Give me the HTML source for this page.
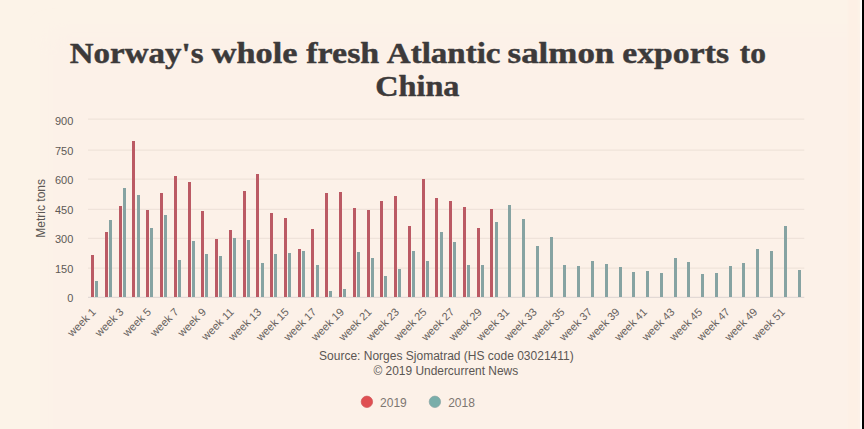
<!DOCTYPE html>
<html><head><meta charset="utf-8"><title>Norway salmon exports to China</title>
<style>html,body{margin:0;padding:0;background:#fcf3e8;}body{width:864px;height:429px;overflow:hidden;position:relative;}svg{position:absolute;left:0;top:0;display:block;}text{font-family:"Liberation Sans",sans-serif;}.t{font-family:"Liberation Serif",serif;font-weight:bold;stroke:#3c3a3a;stroke-width:0.45px;stroke-linejoin:round;}</style>
</head><body>
<svg width="864" height="429" viewBox="0 0 864 429">
<defs><filter id="bl" x="-10%" y="-10%" width="120%" height="120%"><feGaussianBlur stdDeviation="10"/></filter><filter id="bl2" x="-50%" y="-5%" width="200%" height="110%"><feGaussianBlur stdDeviation="1.5 0"/></filter></defs>
<rect x="0" y="0" width="864" height="429" fill="#fcf3e8"/>
<rect x="48" y="32" width="900" height="500" fill="#fcf1e8" filter="url(#bl)"/>
<rect x="848" y="-10" width="10" height="450" fill="#fdf0e5" filter="url(#bl2)"/>
<rect x="860.3" y="0" width="1.7" height="429" fill="#ffffff"/>
<rect x="862" y="0" width="2" height="429" fill="#000000"/>
<line x1="88.0" y1="297.40" x2="804.3" y2="297.40" stroke="#e2d9d5" stroke-width="1.2"/>
<text x="73.3" y="302.15" font-size="11" fill="#5e5955" text-anchor="end">0</text>
<line x1="88.0" y1="268.20" x2="804.3" y2="268.20" stroke="#efe3da" stroke-width="1.2"/>
<text x="73.3" y="272.65" font-size="11" fill="#5e5955" text-anchor="end">150</text>
<line x1="88.0" y1="238.30" x2="804.3" y2="238.30" stroke="#efe3da" stroke-width="1.2"/>
<text x="73.3" y="242.95" font-size="11" fill="#5e5955" text-anchor="end">300</text>
<line x1="88.0" y1="209.30" x2="804.3" y2="209.30" stroke="#efe3da" stroke-width="1.2"/>
<text x="73.3" y="214.15" font-size="11" fill="#5e5955" text-anchor="end">450</text>
<line x1="88.0" y1="179.20" x2="804.3" y2="179.20" stroke="#efe3da" stroke-width="1.2"/>
<text x="73.3" y="183.95" font-size="11" fill="#5e5955" text-anchor="end">600</text>
<line x1="88.0" y1="150.20" x2="804.3" y2="150.20" stroke="#efe3da" stroke-width="1.2"/>
<text x="73.3" y="154.85" font-size="11" fill="#5e5955" text-anchor="end">750</text>
<line x1="88.0" y1="119.10" x2="804.3" y2="119.10" stroke="#efe3da" stroke-width="1.2"/>
<text x="73.3" y="125.05" font-size="11" fill="#5e5955" text-anchor="end">900</text>
<g shape-rendering="crispEdges">
<rect x="91" y="255" width="3" height="42" fill="#bb5a64"/>
<rect x="95" y="281" width="3" height="16" fill="#86a3a2"/>
<rect x="105" y="232" width="3" height="65" fill="#bb5a64"/>
<rect x="109" y="220" width="3" height="77" fill="#86a3a2"/>
<rect x="119" y="206" width="3" height="91" fill="#bb5a64"/>
<rect x="123" y="188" width="3" height="109" fill="#86a3a2"/>
<rect x="132" y="141" width="3" height="156" fill="#bb5a64"/>
<rect x="137" y="195" width="3" height="102" fill="#86a3a2"/>
<rect x="146" y="210" width="3" height="87" fill="#bb5a64"/>
<rect x="150" y="228" width="3" height="69" fill="#86a3a2"/>
<rect x="160" y="193" width="3" height="104" fill="#bb5a64"/>
<rect x="164" y="215" width="3" height="82" fill="#86a3a2"/>
<rect x="174" y="176" width="3" height="121" fill="#bb5a64"/>
<rect x="178" y="260" width="3" height="37" fill="#86a3a2"/>
<rect x="188" y="182" width="3" height="115" fill="#bb5a64"/>
<rect x="192" y="241" width="3" height="56" fill="#86a3a2"/>
<rect x="201" y="211" width="3" height="86" fill="#bb5a64"/>
<rect x="205" y="254" width="3" height="43" fill="#86a3a2"/>
<rect x="215" y="239" width="3" height="58" fill="#bb5a64"/>
<rect x="219" y="256" width="3" height="41" fill="#86a3a2"/>
<rect x="229" y="230" width="3" height="67" fill="#bb5a64"/>
<rect x="233" y="238" width="3" height="59" fill="#86a3a2"/>
<rect x="243" y="191" width="3" height="106" fill="#bb5a64"/>
<rect x="247" y="240" width="3" height="57" fill="#86a3a2"/>
<rect x="256" y="174" width="3" height="123" fill="#bb5a64"/>
<rect x="261" y="263" width="3" height="34" fill="#86a3a2"/>
<rect x="270" y="213" width="3" height="84" fill="#bb5a64"/>
<rect x="274" y="254" width="3" height="43" fill="#86a3a2"/>
<rect x="284" y="218" width="3" height="79" fill="#bb5a64"/>
<rect x="288" y="253" width="3" height="44" fill="#86a3a2"/>
<rect x="298" y="249" width="3" height="48" fill="#bb5a64"/>
<rect x="302" y="251" width="3" height="46" fill="#86a3a2"/>
<rect x="311" y="229" width="3" height="68" fill="#bb5a64"/>
<rect x="316" y="265" width="3" height="32" fill="#86a3a2"/>
<rect x="325" y="193" width="3" height="104" fill="#bb5a64"/>
<rect x="329" y="291" width="3" height="6" fill="#86a3a2"/>
<rect x="339" y="192" width="3" height="105" fill="#bb5a64"/>
<rect x="343" y="289" width="3" height="8" fill="#86a3a2"/>
<rect x="353" y="208" width="3" height="89" fill="#bb5a64"/>
<rect x="357" y="252" width="3" height="45" fill="#86a3a2"/>
<rect x="367" y="210" width="3" height="87" fill="#bb5a64"/>
<rect x="371" y="258" width="3" height="39" fill="#86a3a2"/>
<rect x="380" y="201" width="3" height="96" fill="#bb5a64"/>
<rect x="384" y="276" width="3" height="21" fill="#86a3a2"/>
<rect x="394" y="196" width="3" height="101" fill="#bb5a64"/>
<rect x="398" y="269" width="3" height="28" fill="#86a3a2"/>
<rect x="408" y="226" width="3" height="71" fill="#bb5a64"/>
<rect x="412" y="251" width="3" height="46" fill="#86a3a2"/>
<rect x="422" y="179" width="3" height="118" fill="#bb5a64"/>
<rect x="426" y="261" width="3" height="36" fill="#86a3a2"/>
<rect x="435" y="198" width="3" height="99" fill="#bb5a64"/>
<rect x="440" y="232" width="3" height="65" fill="#86a3a2"/>
<rect x="449" y="201" width="3" height="96" fill="#bb5a64"/>
<rect x="453" y="242" width="3" height="55" fill="#86a3a2"/>
<rect x="463" y="207" width="3" height="90" fill="#bb5a64"/>
<rect x="467" y="265" width="3" height="32" fill="#86a3a2"/>
<rect x="477" y="228" width="3" height="69" fill="#bb5a64"/>
<rect x="481" y="265" width="3" height="32" fill="#86a3a2"/>
<rect x="490" y="209" width="3" height="88" fill="#bb5a64"/>
<rect x="495" y="222" width="3" height="75" fill="#86a3a2"/>
<rect x="508" y="205" width="3" height="92" fill="#86a3a2"/>
<rect x="522" y="219" width="3" height="78" fill="#86a3a2"/>
<rect x="536" y="246" width="3" height="51" fill="#86a3a2"/>
<rect x="550" y="237" width="3" height="60" fill="#86a3a2"/>
<rect x="563" y="265" width="3" height="32" fill="#86a3a2"/>
<rect x="577" y="266" width="3" height="31" fill="#86a3a2"/>
<rect x="591" y="261" width="3" height="36" fill="#86a3a2"/>
<rect x="605" y="264" width="3" height="33" fill="#86a3a2"/>
<rect x="619" y="267" width="3" height="30" fill="#86a3a2"/>
<rect x="632" y="272" width="3" height="25" fill="#86a3a2"/>
<rect x="646" y="271" width="3" height="26" fill="#86a3a2"/>
<rect x="660" y="273" width="3" height="24" fill="#86a3a2"/>
<rect x="674" y="258" width="3" height="39" fill="#86a3a2"/>
<rect x="687" y="262" width="3" height="35" fill="#86a3a2"/>
<rect x="701" y="274" width="3" height="23" fill="#86a3a2"/>
<rect x="715" y="273" width="3" height="24" fill="#86a3a2"/>
<rect x="729" y="266" width="3" height="31" fill="#86a3a2"/>
<rect x="742" y="263" width="3" height="34" fill="#86a3a2"/>
<rect x="756" y="249" width="3" height="48" fill="#86a3a2"/>
<rect x="770" y="251" width="3" height="46" fill="#86a3a2"/>
<rect x="784" y="226" width="3" height="71" fill="#86a3a2"/>
<rect x="798" y="270" width="3" height="27" fill="#86a3a2"/>
</g>
<text transform="translate(96.70,312.60) rotate(-45)" font-size="11" fill="#67625e" text-anchor="end">week 1</text>
<text transform="translate(124.26,312.60) rotate(-45)" font-size="11" fill="#67625e" text-anchor="end">week 3</text>
<text transform="translate(151.82,312.60) rotate(-45)" font-size="11" fill="#67625e" text-anchor="end">week 5</text>
<text transform="translate(179.38,312.60) rotate(-45)" font-size="11" fill="#67625e" text-anchor="end">week 7</text>
<text transform="translate(206.94,312.60) rotate(-45)" font-size="11" fill="#67625e" text-anchor="end">week 9</text>
<text transform="translate(234.50,312.60) rotate(-45)" font-size="11" fill="#67625e" text-anchor="end">week 11</text>
<text transform="translate(262.06,312.60) rotate(-45)" font-size="11" fill="#67625e" text-anchor="end">week 13</text>
<text transform="translate(289.62,312.60) rotate(-45)" font-size="11" fill="#67625e" text-anchor="end">week 15</text>
<text transform="translate(317.18,312.60) rotate(-45)" font-size="11" fill="#67625e" text-anchor="end">week 17</text>
<text transform="translate(344.74,312.60) rotate(-45)" font-size="11" fill="#67625e" text-anchor="end">week 19</text>
<text transform="translate(372.30,312.60) rotate(-45)" font-size="11" fill="#67625e" text-anchor="end">week 21</text>
<text transform="translate(399.86,312.60) rotate(-45)" font-size="11" fill="#67625e" text-anchor="end">week 23</text>
<text transform="translate(427.42,312.60) rotate(-45)" font-size="11" fill="#67625e" text-anchor="end">week 25</text>
<text transform="translate(454.98,312.60) rotate(-45)" font-size="11" fill="#67625e" text-anchor="end">week 27</text>
<text transform="translate(482.54,312.60) rotate(-45)" font-size="11" fill="#67625e" text-anchor="end">week 29</text>
<text transform="translate(510.10,312.60) rotate(-45)" font-size="11" fill="#67625e" text-anchor="end">week 31</text>
<text transform="translate(537.66,312.60) rotate(-45)" font-size="11" fill="#67625e" text-anchor="end">week 33</text>
<text transform="translate(565.22,312.60) rotate(-45)" font-size="11" fill="#67625e" text-anchor="end">week 35</text>
<text transform="translate(592.78,312.60) rotate(-45)" font-size="11" fill="#67625e" text-anchor="end">week 37</text>
<text transform="translate(620.34,312.60) rotate(-45)" font-size="11" fill="#67625e" text-anchor="end">week 39</text>
<text transform="translate(647.90,312.60) rotate(-45)" font-size="11" fill="#67625e" text-anchor="end">week 41</text>
<text transform="translate(675.46,312.60) rotate(-45)" font-size="11" fill="#67625e" text-anchor="end">week 43</text>
<text transform="translate(703.02,312.60) rotate(-45)" font-size="11" fill="#67625e" text-anchor="end">week 45</text>
<text transform="translate(730.58,312.60) rotate(-45)" font-size="11" fill="#67625e" text-anchor="end">week 47</text>
<text transform="translate(758.14,312.60) rotate(-45)" font-size="11" fill="#67625e" text-anchor="end">week 49</text>
<text transform="translate(785.70,312.60) rotate(-45)" font-size="11" fill="#67625e" text-anchor="end">week 51</text>
<text transform="translate(44.6,208.3) rotate(-90)" font-size="12" fill="#5b5653" text-anchor="middle">Metric tons</text>
<text class="t" x="69.80" y="62.5" font-size="30" fill="#3c3a3a" textLength="133.70" lengthAdjust="spacingAndGlyphs">Norway's</text>
<text class="t" x="211.80" y="62.5" font-size="30" fill="#3c3a3a" textLength="85.70" lengthAdjust="spacingAndGlyphs">whole</text>
<text class="t" x="306.30" y="62.5" font-size="30" fill="#3c3a3a" textLength="72.95" lengthAdjust="spacingAndGlyphs">fresh</text>
<text class="t" x="386.80" y="62.5" font-size="30" fill="#3c3a3a" textLength="113.70" lengthAdjust="spacingAndGlyphs">Atlantic</text>
<text class="t" x="507.55" y="62.5" font-size="30" fill="#3c3a3a" textLength="106.75" lengthAdjust="spacingAndGlyphs">salmon</text>
<text class="t" x="622.30" y="62.5" font-size="30" fill="#3c3a3a" textLength="106.70" lengthAdjust="spacingAndGlyphs">exports</text>
<text class="t" x="739.80" y="62.5" font-size="30" fill="#3c3a3a" textLength="26.20" lengthAdjust="spacingAndGlyphs">to</text>
<text class="t" x="375.20" y="96.3" font-size="30" fill="#3c3a3a" textLength="84.30" lengthAdjust="spacingAndGlyphs">China</text>
<text x="446.4" y="359.9" font-size="12" fill="#5b5653" text-anchor="middle">Source: Norges Sjomatrad (HS code 03021411)</text>
<text x="445.8" y="374.6" font-size="11.93" fill="#5b5653" text-anchor="middle">© 2019 Undercurrent News</text>
<circle cx="366.9" cy="401.8" r="5.7" fill="#df4f52" stroke="#cf5557" stroke-width="0.7"/>
<text x="380.1" y="406.7" font-size="12" fill="#7d7671">2019</text>
<circle cx="434.9" cy="401.8" r="5.7" fill="#79aeaa" stroke="#86a3a3" stroke-width="0.7"/>
<text x="448.2" y="406.7" font-size="12" fill="#7d7671">2018</text>
</svg>
</body></html>
